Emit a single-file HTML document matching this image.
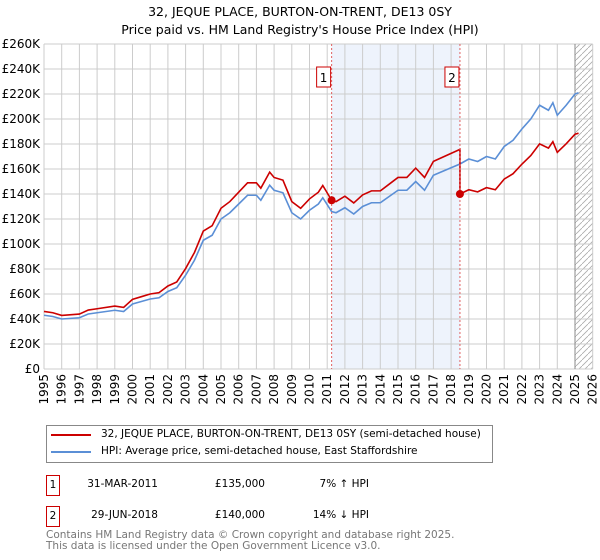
<!DOCTYPE html>
<html><head><meta charset="utf-8"><style>
body{margin:0;background:#fff;font-family:"DejaVu Sans","Liberation Sans",sans-serif;}
#wrap{position:relative;width:600px;height:560px;overflow:hidden}
.t{position:absolute;font-size:10.5px;color:#000;white-space:nowrap}
</style></head><body><div id="wrap">
<div class="t" style="left:0;width:600px;text-align:center;top:4px;font-size:12.5px">32, JEQUE PLACE, BURTON-ON-TRENT, DE13 0SY</div>
<div class="t" style="left:0;width:600px;text-align:center;top:22px;font-size:12.5px">Price paid vs. HM Land Registry's House Price Index (HPI)</div>
<svg id="c" width="600" height="420" style="position:absolute;left:0;top:0;font-family:'DejaVu Sans','Liberation Sans',sans-serif"></svg>
<div style="position:absolute;left:46px;top:425px;width:445px;height:36px;border:1px solid #888"></div>
<div style="position:absolute;left:51px;top:434px;width:40px;height:2px;background:#cc0000"></div>
<div class="t" style="left:101px;top:428px">32, JEQUE PLACE, BURTON-ON-TRENT, DE13 0SY (semi-detached house)</div>
<div style="position:absolute;left:51px;top:451px;width:40px;height:2px;background:#5b8fd6"></div>
<div class="t" style="left:101px;top:445px">HPI: Average price, semi-detached house, East Staffordshire</div>
<div class="t" style="left:46px;top:475px;width:12px;height:19px;border:1px solid #cc0000;text-align:center;line-height:19px">1</div>
<div class="t" style="left:60px;width:98px;text-align:right;top:478px">31-MAR-2011</div>
<div class="t" style="left:180px;width:85px;text-align:right;top:478px">£135,000</div>
<div class="t" style="left:290px;width:79px;text-align:right;top:478px">7% ↑ HPI</div>
<div class="t" style="left:46px;top:506px;width:12px;height:19px;border:1px solid #cc0000;text-align:center;line-height:19px">2</div>
<div class="t" style="left:60px;width:98px;text-align:right;top:509px">29-JUN-2018</div>
<div class="t" style="left:180px;width:85px;text-align:right;top:509px">£140,000</div>
<div class="t" style="left:290px;width:79px;text-align:right;top:509px">14% ↓ HPI</div>
<div class="t" style="left:46px;top:530px;color:#777;line-height:11px">Contains HM Land Registry data © Crown copyright and database right 2025.<br>This data is licensed under the Open Government Licence v3.0.</div>
</div>
<script>
const hpiT=[1995,1995.5,1996,1997,1997.5,1998,1999,1999.5,2000,2000.5,2001,2001.5,2002,2002.5,2003,2003.5,2004,2004.5,2005,2005.5,2006,2006.5,2007,2007.25,2007.75,2008,2008.5,2009,2009.5,2010,2010.5,2010.75,2011.25,2011.5,2012,2012.5,2013,2013.5,2014,2014.5,2015,2015.5,2016,2016.5,2017,2017.5,2018,2018.5,2019,2019.5,2020,2020.5,2021,2021.5,2022,2022.5,2023,2023.5,2023.75,2024,2024.5,2025,2025.2];
const hpiV=[43,42,40,41,44,45,47,46,52,54,56,57,62,65,75,87,103,107,120,125,132,139,139,135,147,143,141,125,120,127,132,137,126,125,129,124,130,133,133,138,143,143,150,143,155,158,161,164,168,166,170,168,178,183,192,200,211,207,213,203,211,220,221];
const saleT=[2011.25,2018.5];
const saleV=[135,140];
const saleLabels=["1","2"];
const yTicks=[0,20,40,60,80,100,120,140,160,180,200,220,240,260];
const xYears=[];for(let y=1995;y<=2026;y++)xYears.push(y);
const X=t=>44+(t-1995)*17.7, Y=v=>369-v*1.25;
const svg=document.getElementById('c'),NS='http://www.w3.org/2000/svg';
function mk(tag,a){const e=document.createElementNS(NS,tag);for(const k in a)e.setAttribute(k,a[k]);svg.appendChild(e);return e;}
let e;
e=mk('rect',{x:X(saleT[0]),y:Y(260),width:X(saleT[1])-X(saleT[0]),height:Y(0)-Y(260),fill:'#eef3fc'});


const pat=mk('pattern',{id:'h',width:6,height:6,patternUnits:'userSpaceOnUse'});
const pl=document.createElementNS(NS,'path');pl.setAttribute('d','M0,6L6,0');pl.setAttribute('stroke','#aaa');pl.setAttribute('stroke-width','0.8');pat.appendChild(pl);
e=mk('rect',{x:X(2025),y:Y(260),width:X(2026)-X(2025),height:Y(0)-Y(260),fill:'url(#h)'});


yTicks.forEach(v=>{
 e=mk('line',{x1:X(1995),x2:X(2026),y1:Y(v),y2:Y(v),stroke:'#ccc','stroke-width':1});
 
 
 e=mk('text',{x:40,y:Y(v)+4,'text-anchor':'end','font-size':12,fill:'#000'});e.textContent=v===0?'£0':'£'+v+'K';
 
 
});
xYears.forEach(y=>{
 e=mk('line',{x1:X(y),x2:X(y),y1:Y(260),y2:Y(0),stroke:'#ccc','stroke-width':1});
 
 
 e=mk('text',{transform:`translate(${X(y)+4},${374}) rotate(-90)`,'text-anchor':'end','font-size':12,fill:'#000'});e.textContent=y;
 
 
});
e=mk('line',{x1:X(2025),x2:X(2025),y1:Y(260),y2:Y(0),stroke:'#888','stroke-width':1});


function hAt(t){for(let i=1;i<hpiT.length;i++)if(t<=hpiT[i]){const f=(t-hpiT[i-1])/(hpiT[i]-hpiT[i-1]);return hpiV[i-1]+f*(hpiV[i]-hpiV[i-1]);}return hpiV[hpiV.length-1];}
e=mk('polyline',{points:hpiT.map((t,i)=>X(t)+','+Y(hpiV[i])).join(' '),fill:'none',stroke:'#5b8fd6','stroke-width':1.6});


const r1=saleV[0]/hAt(saleT[0]),r2=saleV[1]/hAt(saleT[1]);
const pts=[];
hpiT.forEach((t,i)=>{if(t<saleT[1])pts.push([t,hpiV[i]*r1]);});
pts.push([saleT[1],hAt(saleT[1])*r1]);pts.push([saleT[1],saleV[1]]);
hpiT.forEach((t,i)=>{if(t>saleT[1])pts.push([t,hpiV[i]*r2]);});
e=mk('polyline',{points:pts.map(p=>X(p[0])+','+Y(p[1])).join(' '),fill:'none',stroke:'#cc0000','stroke-width':1.6});


saleT.forEach((t,i)=>{
 e=mk('line',{x1:X(t),x2:X(t),y1:Y(260),y2:Y(0),stroke:'#e06060','stroke-width':1,'stroke-dasharray':'2,2'});
 
 
 e=mk('circle',{cx:X(t),cy:Y(saleV[i]),r:4,fill:'#cc0000'});
 
 
 e=mk('rect',{x:X(t)-15,y:67,width:14,height:20,fill:'#fff',stroke:'#cc0000'});
 
 
 e=mk('text',{x:X(t)-8,y:82,'text-anchor':'middle','font-size':12});e.textContent=saleLabels[i];
 
 
});
</script></body></html>
